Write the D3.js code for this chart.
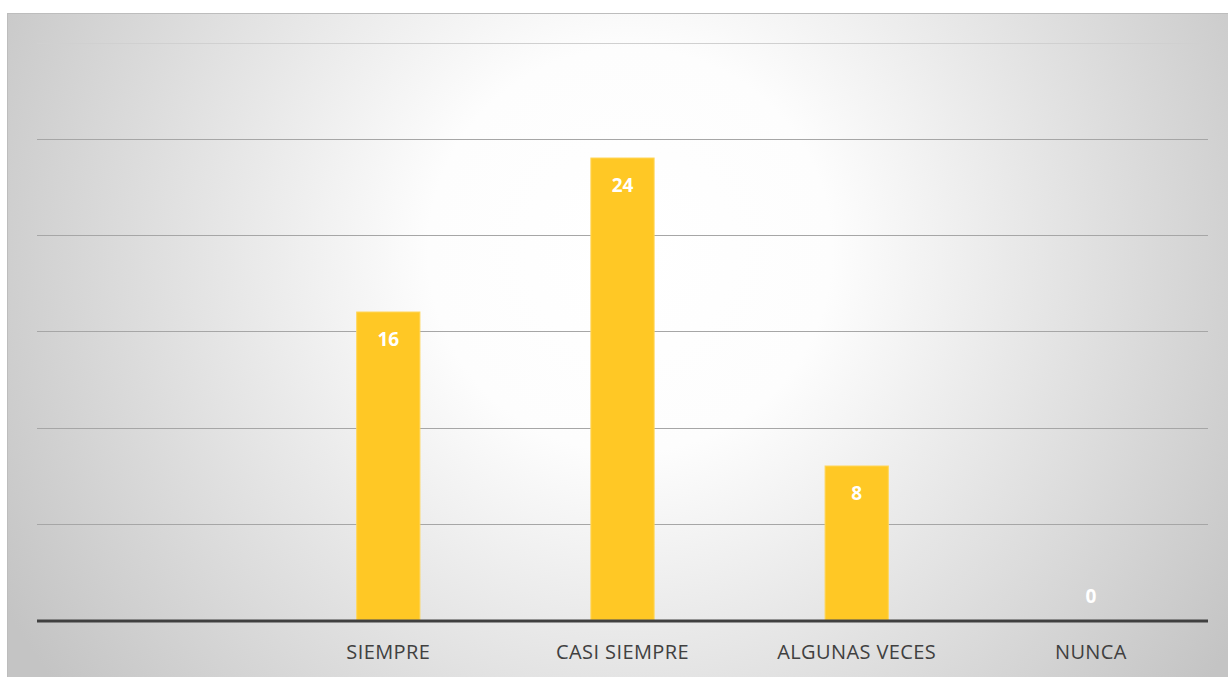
<!DOCTYPE html>
<html>
<head>
<meta charset="utf-8">
<script src="https://cdn.jsdelivr.net/npm/d3@7"></script>
<style>
  body { margin: 0; background: #fff; }
  svg { display: block; }
</style>
</head>
<body>
<div id="chart"></div>
<script>
let categories = ['', 'SIEMPRE', 'CASI SIEMPRE', 'ALGUNAS VECES', 'NUNCA'];
let values = [null, 16, 24, 8, 0];
let yTicks = [0, 5, 10, 15, 20, 25, 30];

let width = 1228, height = 677;
let margin = {top: 42, right: 20, bottom: 57, left: 37};

let svg = d3.select('#chart').append('svg')
    .attr('width', width)
    .attr('height', height);

// background gradient, white in the middle, gray to the edges
let defs = svg.append('defs');
let grad = defs.append('radialGradient')
    .attr('id', 'bg')
    .attr('gradientUnits', 'userSpaceOnUse')
    .attr('cx', 630).attr('cy', 250).attr('r', 720);
grad.append('stop').attr('offset', '0%').attr('stop-color', '#ffffff');
grad.append('stop').attr('offset', '28%').attr('stop-color', '#fdfdfd');
grad.append('stop').attr('offset', '100%').attr('stop-color', '#c4c4c4');

svg.append('rect')
    .attr('x', 7).attr('y', 13)
    .attr('width', width - 7).attr('height', height - 13)
    .attr('fill', 'url(#bg)');
svg.append('line')
    .attr('x1', 7).attr('x2', width).attr('y1', 13.5).attr('y2', 13.5)
    .attr('stroke', '#bdbdbd').attr('stroke-width', 1);
svg.append('line')
    .attr('x1', 7.5).attr('x2', 7.5).attr('y1', 13).attr('y2', height)
    .attr('stroke', '#bdbdbd').attr('stroke-width', 1);

let x = d3.scaleBand()
    .domain(categories)
    .range([margin.left, width - margin.right])
    .paddingInner(0.73)
    .paddingOuter(0.365);
let y = d3.scaleLinear()
    .domain([0, 30])
    .range([620, 42.5]);

// gridlines
svg.append('g')
    .selectAll('line')
    .data(yTicks.filter(t => t > 0))
    .enter().append('line')
    .attr('x1', margin.left)
    .attr('x2', width - margin.right)
    .attr('y1', d => Math.round(y(d)) + 0.5)
    .attr('y2', d => Math.round(y(d)) + 0.5)
    .attr('stroke', d => d === 30 ? '#d0d0d0' : '#a6a6a6')
    .attr('stroke-width', 1.2);

// bars
let barData = categories.map((c, i) => ({cat: c, val: values[i]})).filter(d => d.val !== null);

svg.selectAll('.bar')
    .data(barData)
    .enter().append('rect')
    .attr('class', 'bar')
    .attr('x', d => x(d.cat))
    .attr('width', x.bandwidth())
    .attr('y', d => y(d.val))
    .attr('height', d => y(0) - y(d.val))
    .attr('fill', '#ffc825')
    .attr('stroke', '#ffd65a')
    .attr('stroke-width', 1);

// baseline
svg.append('line')
    .attr('x1', margin.left)
    .attr('x2', width - margin.right)
    .attr('y1', y(0) + 1)
    .attr('y2', y(0) + 1)
    .attr('stroke', '#404040')
    .attr('stroke-width', 3);

// value labels
svg.selectAll('.val')
    .data(barData)
    .enter().append('text')
    .attr('class', 'val')
    .attr('x', d => x(d.cat) + x.bandwidth() / 2)
    .attr('y', d => d.val === 0 ? y(0) - 17 : y(d.val) + 34)
    .attr('text-anchor', 'middle')
    .attr('font-family', 'Open Sans, sans-serif')
    .attr('font-weight', 'bold')
    .attr('font-size', 19)
    .attr('fill', '#ffffff')
    .text(d => d.val);

// category labels
svg.selectAll('.cat')
    .data(categories.filter(c => c !== ''))
    .enter().append('text')
    .attr('class', 'cat')
    .attr('x', d => x(d) + x.bandwidth() / 2)
    .attr('y', 659)
    .attr('text-anchor', 'middle')
    .attr('font-family', 'Open Sans, sans-serif')
    .attr('font-size', 20)
    .attr('letter-spacing', 0.4)
    .attr('fill', '#404040')
    .text(d => d);
</script>
</body>
</html>
